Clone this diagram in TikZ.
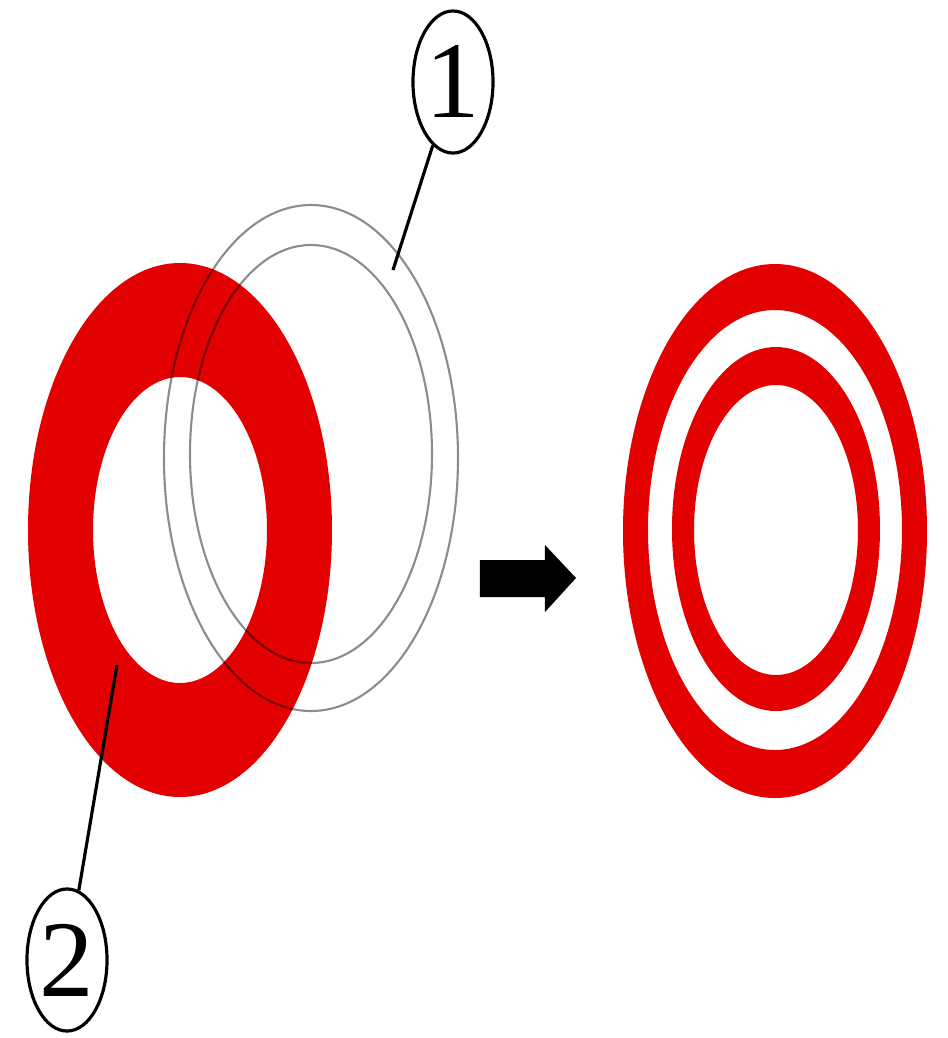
\documentclass[tikz,border=0pt]{standalone}
\usepackage{fontspec}
\setmainfont{Liberation Serif}
\usetikzlibrary{shapes.geometric}
\definecolor{ringred}{RGB}{226,0,0}
\tikzset{
  callout/.style={draw, ellipse, line width=0.9pt, minimum width=0.8cm,
    minimum height=1.42cm, inner sep=0pt, font=\fontsize{31}{31}\selectfont},
  leader/.style={line width=0.9pt},
  thinring/.style={draw=black, draw opacity=0.45, line width=0.6pt},
}
\begin{document}
\begin{tikzpicture}[x=0.01cm, y=-0.01cm]
  \useasboundingbox (0,0) rectangle (947,1038);
  % left: red ring with the thin ring over it
  \fill[ringred, even odd rule] (180,530) ellipse [x radius=152, y radius=267]
       (180,530) ellipse [x radius=87, y radius=153];
  \draw[thinring] (311,458) ellipse [x radius=147, y radius=253];
  \draw[thinring] (311,454) ellipse [x radius=121, y radius=209];
  % callouts
  \node[callout] (lab1) at (453,82) {1};
  \node[callout] (lab2) at (67,960) {2};
  \coordinate (p1) at (393,270);
  \coordinate (p2) at (117,665);
  \draw[leader] (lab1) -- (p1);
  \draw[leader] (lab2) -- (p2);
  % arrow
  \fill (480,560) -- (545,560) -- (545,545) -- (576,578) -- (545,612)
       -- (545,597) -- (480,597) -- cycle;
  % right: two red rings
  \fill[ringred, even odd rule] (775,531) ellipse [x radius=152, y radius=267]
       (775,530) ellipse [x radius=127, y radius=220];
  \fill[ringred, even odd rule] (776,529) ellipse [x radius=104, y radius=182]
       (776,530) ellipse [x radius=82, y radius=145];
\end{tikzpicture}
\end{document}
